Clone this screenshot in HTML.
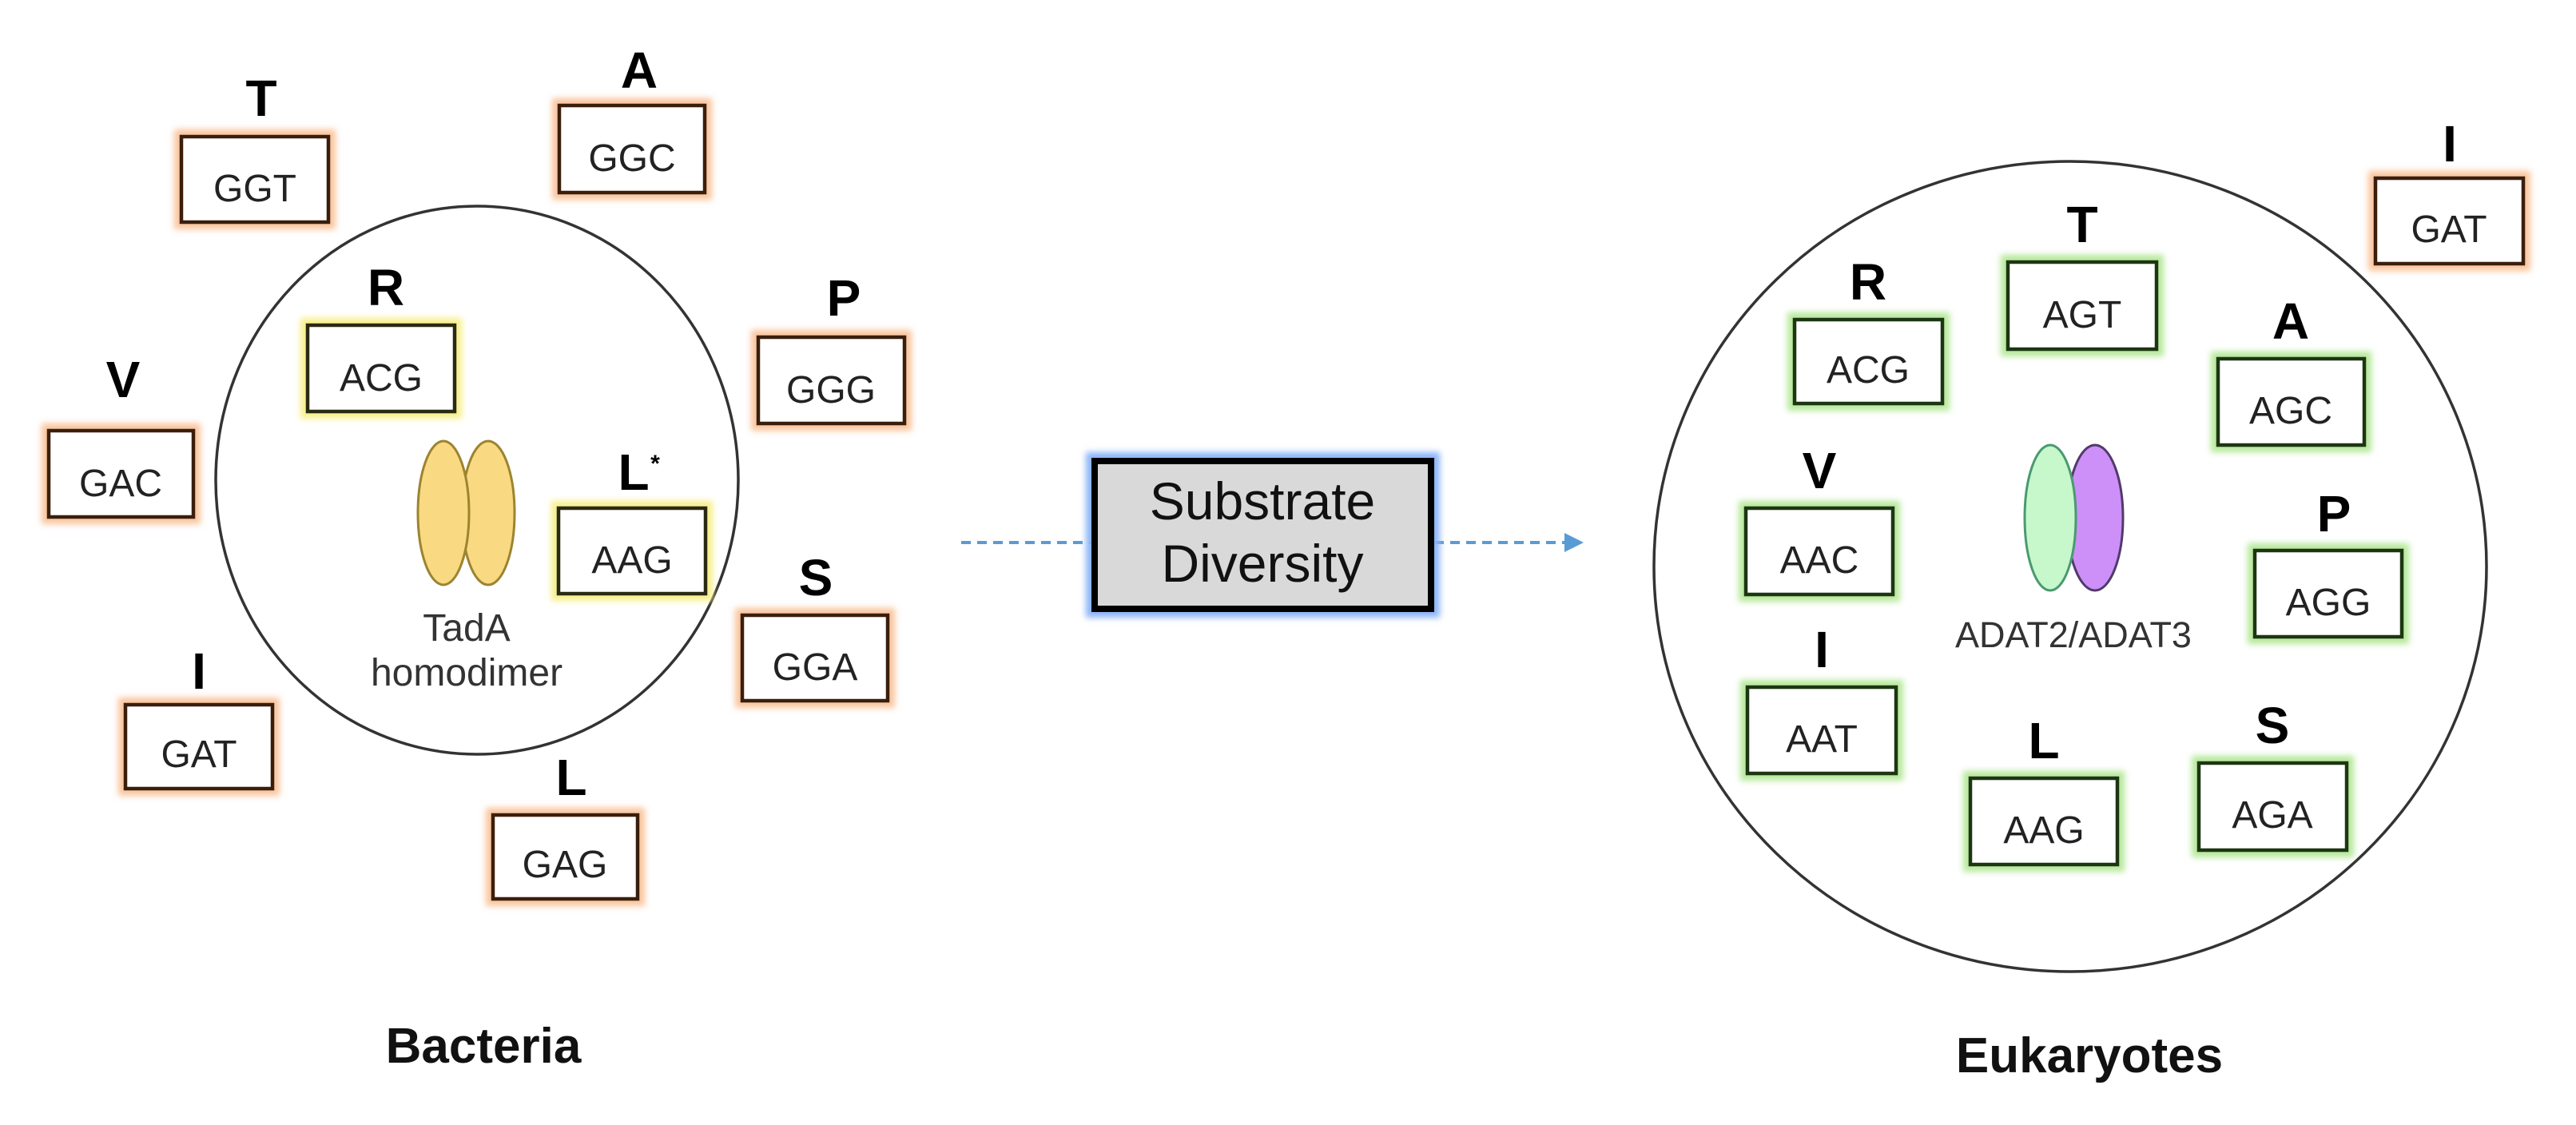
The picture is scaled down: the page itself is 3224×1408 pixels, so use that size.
<!DOCTYPE html>
<html><head><meta charset="utf-8"><style>
html,body{margin:0;padding:0;background:#fff;}
svg{display:block;}
text{font-family:"Liberation Sans",Arial,sans-serif;}
.lab{font-weight:bold;font-size:64px;fill:#000;text-anchor:middle;}
.cod{font-size:48px;fill:#222;text-anchor:middle;}
</style></head><body>
<svg width="3224" height="1408" viewBox="0 0 3224 1408" xmlns="http://www.w3.org/2000/svg">
<defs>
<filter id="bl" x="-20%" y="-40%" width="140%" height="180%"><feGaussianBlur stdDeviation="4"/></filter>
<marker id="ah" markerWidth="6" markerHeight="6" refX="3" refY="3" orient="auto" markerUnits="strokeWidth"><path d="M0,0 L6,3 L0,6 z" fill="#5b9bd5"/></marker>
</defs>
<rect width="3224" height="1408" fill="#fff"/>

<!-- circles -->
<ellipse cx="597" cy="601" rx="327" ry="343" fill="none" stroke="#333" stroke-width="3.5"/>
<ellipse cx="2591" cy="709" rx="521" ry="507" fill="none" stroke="#333" stroke-width="3.5"/>

<!-- boxes: glow + border -->
<g id="boxes">
<!-- orange -->
<g fill="none" stroke="#f9c49c" stroke-width="18" filter="url(#bl)">
<rect x="227" y="171" width="184" height="107"/>
<rect x="700" y="132" width="182" height="109"/>
<rect x="949" y="422" width="183" height="108"/>
<rect x="61" y="539" width="181" height="108"/>
<rect x="929" y="770" width="182" height="107"/>
<rect x="157" y="882" width="184" height="105"/>
<rect x="617" y="1020" width="181" height="105"/>
<rect x="2973" y="223" width="185" height="107"/>
</g>
<g fill="none" stroke="#f7f08a" stroke-width="18" filter="url(#bl)">
<rect x="385" y="407" width="184" height="108"/>
<rect x="699" y="636" width="184" height="107"/>
</g>
<g fill="none" stroke="#b6e89a" stroke-width="18" filter="url(#bl)">
<rect x="2513" y="328" width="186" height="109"/>
<rect x="2246" y="400" width="185" height="105"/>
<rect x="2776" y="449" width="183" height="108"/>
<rect x="2185" y="636" width="184" height="108"/>
<rect x="2822" y="689" width="184" height="108"/>
<rect x="2187" y="860" width="186" height="108"/>
<rect x="2466" y="974" width="184" height="108"/>
<rect x="2752" y="955" width="185" height="109"/>
</g>
<g fill="#fff" stroke="#3a1e0c" stroke-width="4.5">
<rect x="227" y="171" width="184" height="107"/>
<rect x="700" y="132" width="182" height="109"/>
<rect x="949" y="422" width="183" height="108"/>
<rect x="61" y="539" width="181" height="108"/>
<rect x="929" y="770" width="182" height="107"/>
<rect x="157" y="882" width="184" height="105"/>
<rect x="617" y="1020" width="181" height="105"/>
<rect x="2973" y="223" width="185" height="107"/>
</g>
<g fill="#fff" stroke="#2a2a12" stroke-width="4.5">
<rect x="385" y="407" width="184" height="108"/>
<rect x="699" y="636" width="184" height="107"/>
</g>
<g fill="#fff" stroke="#1c3612" stroke-width="4.5">
<rect x="2513" y="328" width="186" height="109"/>
<rect x="2246" y="400" width="185" height="105"/>
<rect x="2776" y="449" width="183" height="108"/>
<rect x="2185" y="636" width="184" height="108"/>
<rect x="2822" y="689" width="184" height="108"/>
<rect x="2187" y="860" width="186" height="108"/>
<rect x="2466" y="974" width="184" height="108"/>
<rect x="2752" y="955" width="185" height="109"/>
</g>
</g>

<!-- codon text -->
<g class="cod">
<text x="319" y="252">GGT</text>
<text x="791" y="214">GGC</text>
<text x="477" y="489">ACG</text>
<text x="1040" y="504">GGG</text>
<text x="151" y="621">GAC</text>
<text x="791" y="717">AAG</text>
<text x="1020" y="851">GGA</text>
<text x="249" y="960">GAT</text>
<text x="707" y="1098">GAG</text>
<text x="3065" y="303">GAT</text>
<text x="2606" y="410">AGT</text>
<text x="2338" y="479">ACG</text>
<text x="2867" y="530">AGC</text>
<text x="2277" y="717">AAC</text>
<text x="2914" y="770">AGG</text>
<text x="2280" y="941">AAT</text>
<text x="2558" y="1055">AAG</text>
<text x="2844" y="1036">AGA</text>
</g>

<!-- amino acid labels -->
<g class="lab">
<text x="327" y="145">T</text>
<text x="800" y="110">A</text>
<text x="483" y="382">R</text>
<text x="1056" y="395">P</text>
<text x="154" y="497">V</text>
<text x="793" y="613">L</text>
<text x="249" y="862">I</text>
<text x="1021" y="745">S</text>
<text x="715" y="995">L</text>
<text x="3066" y="202">I</text>
<text x="2606" y="303">T</text>
<text x="2338" y="375">R</text>
<text x="2867" y="424">A</text>
<text x="2277" y="611">V</text>
<text x="2921" y="665">P</text>
<text x="2280" y="835">I</text>
<text x="2558" y="949">L</text>
<text x="2844" y="930">S</text>
</g>
<text x="820" y="590" font-size="30" font-weight="bold" fill="#000" text-anchor="middle">*</text>

<!-- TadA -->
<ellipse cx="611" cy="642" rx="33" ry="90" fill="#f9d982" stroke="#9c8430" stroke-width="3"/>
<ellipse cx="555" cy="642" rx="32" ry="90" fill="#f9d982" stroke="#9c8430" stroke-width="3"/>
<text x="584" y="802" font-size="48" fill="#333" text-anchor="middle">TadA</text>
<text x="584" y="858" font-size="48" fill="#333" text-anchor="middle">homodimer</text>

<!-- ADAT -->
<ellipse cx="2622" cy="648" rx="35" ry="91" fill="#cc90f8" stroke="#523a6a" stroke-width="3"/>
<ellipse cx="2566" cy="648" rx="32" ry="91" fill="#c6f8cc" stroke="#4a9a70" stroke-width="3"/>
<text x="2595" y="810" font-size="45" fill="#333" text-anchor="middle">ADAT2/ADAT3</text>

<!-- middle -->
<line x1="1203" y1="679" x2="1366" y2="679" stroke="#5b9bd5" stroke-width="4" stroke-dasharray="12 8"/>
<line x1="1795" y1="679" x2="1970" y2="679" stroke="#5b9bd5" stroke-width="4" stroke-dasharray="12 8" marker-end="url(#ah)"/>
<rect x="1370" y="577" width="421" height="185" fill="none" stroke="#8ab4f8" stroke-width="22" filter="url(#bl)"/>
<rect x="1370" y="577" width="421" height="185" fill="#d9d9d9" stroke="#000" stroke-width="8"/>
<text x="1580" y="650" font-size="66" fill="#111" text-anchor="middle">Substrate</text>
<text x="1580" y="728" font-size="66" fill="#111" text-anchor="middle">Diversity</text>

<!-- titles -->
<text x="605" y="1330" font-size="62" font-weight="bold" fill="#111" text-anchor="middle">Bacteria</text>
<text x="2615" y="1342" font-size="62" font-weight="bold" fill="#111" text-anchor="middle">Eukaryotes</text>
</svg>
</body></html>
